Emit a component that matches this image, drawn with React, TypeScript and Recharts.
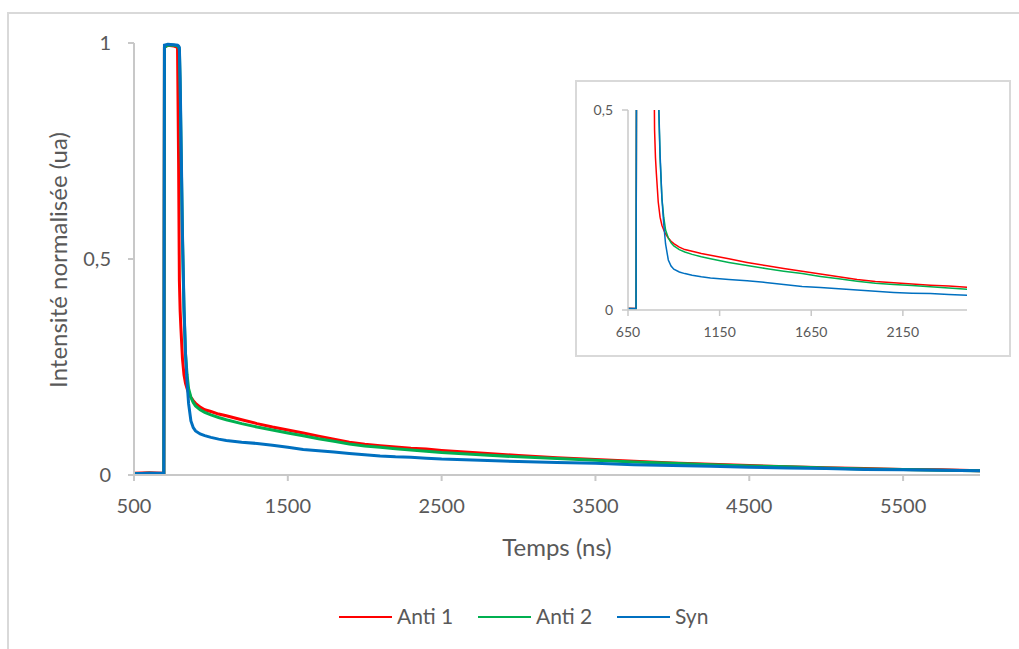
import React from 'react';
import { LineChart, Line, XAxis, YAxis } from 'recharts';

// temps (ns) et intensités normalisées
const timeNs = [
  500, 600, 694, 698, 720, 760, 783, 790, 795, 800, 805, 815, 825, 835, 845, 855, 870, 885, 900, 930,
  960, 1000, 1050, 1100, 1200, 1300, 1400, 1500, 1600, 1700, 1800, 1900, 2000, 2100, 2200, 2300, 2400, 2500,
  2750, 3000, 3250, 3500, 3750, 4000, 4250, 4500, 4750, 5000, 5250, 5500, 5750, 6000,
];
const anti1 = [
  0.004, 0.005, 0.004, 0.99, 0.995, 0.993, 0.99, 0.72, 0.45, 0.38, 0.34, 0.27, 0.232, 0.212, 0.2, 0.19, 0.18, 0.172, 0.166, 0.157,
  0.151, 0.147, 0.141, 0.137, 0.128, 0.119, 0.111, 0.104, 0.097, 0.09, 0.083, 0.076, 0.071, 0.068, 0.065, 0.062, 0.06, 0.057,
  0.051, 0.045, 0.04, 0.036, 0.032, 0.028, 0.025, 0.022, 0.019, 0.017, 0.015, 0.013, 0.012, 0.01,
];
const anti2 = [
  0.003, 0.004, 0.003, 0.99, 0.995, 0.995, 0.993, 0.99, 0.985, 0.9, 0.78, 0.55, 0.38, 0.28, 0.232, 0.2, 0.18, 0.168, 0.16, 0.151,
  0.145, 0.139, 0.133, 0.128, 0.119, 0.111, 0.104, 0.097, 0.091, 0.084, 0.078, 0.072, 0.067, 0.064, 0.061, 0.058, 0.055, 0.052,
  0.047, 0.042, 0.038, 0.034, 0.03, 0.027, 0.024, 0.021, 0.019, 0.016, 0.014, 0.013, 0.011, 0.01,
];
const syn = [
  0.003, 0.004, 0.004, 0.995, 0.997, 0.996, 0.995, 0.993, 0.99, 0.92, 0.8, 0.56, 0.39, 0.28, 0.215, 0.165, 0.125, 0.11, 0.102, 0.095,
  0.091, 0.087, 0.083, 0.08, 0.076, 0.073, 0.069, 0.064, 0.059, 0.056, 0.053, 0.05, 0.047, 0.044, 0.042, 0.041, 0.039, 0.037,
  0.034, 0.031, 0.029, 0.027, 0.024, 0.022, 0.02, 0.018, 0.016, 0.015, 0.013, 0.012, 0.011, 0.01,
];

const mainTicksX = [500, 1500, 2500, 3500, 4500, 5500];
const mainTicksY = [0, 0.5, 1];
const insetTicksX = [650, 1150, 1650, 2150];
const insetTicksY = [0, 0.5];

const SERIES = [
  { key: 'anti1', name: 'Anti 1', color: '#FF0000' },
  { key: 'anti2', name: 'Anti 2', color: '#00B050' },
  { key: 'syn', name: 'Syn', color: '#0070C0' },
];

const TEXT = '#595959';
const AXIS = '#C8C8C8';
const FONT = 'Lato, "Open Sans", sans-serif';

const fmt = (v: number) => String(v).replace('.', ',');

// légende : position de départ de chaque entrée
const legendX = [339, 478, 617];

export default function App() {
  const data = timeNs.map((t, i) => ({ t, anti1: anti1[i], anti2: anti2[i], syn: syn[i] }));

  return (
    <div style={{ position: 'relative', width: 1019, height: 649, background: '#fff', fontFamily: FONT, overflow: 'hidden' }}>
      <style>{'body{margin:0}'}</style>
      {/* cadre du graphique */}
      <div style={{ position: 'absolute', left: 7, top: 12, width: 1030, height: 660, borderLeft: '2px solid #D9D9D9', borderTop: '2px solid #D9D9D9' }} />

      <div style={{ position: 'absolute', left: 0, top: 0 }}>
        <LineChart width={1019} height={649} data={data} margin={{ top: 43, right: 39, bottom: 134, left: 0 }}>
          <XAxis
            type="number"
            dataKey="t"
            domain={[500, 6000]}
            ticks={mainTicksX}
            height={40}
            stroke={AXIS}
            strokeWidth={2}
            tickSize={6}
            tickMargin={18}
            tick={{ fill: TEXT, fontSize: 20, fontFamily: FONT }}
            label={{
              content: () => (
                <text x={557} y={556} textAnchor="middle" fill={TEXT} fontSize={24} fontFamily={FONT}>Temps (ns)</text>
              ),
            }}
          />
          <YAxis
            type="number"
            domain={[0, 1]}
            ticks={mainTicksY}
            width={134}
            stroke={AXIS}
            strokeWidth={2}
            tickSize={6}
            tickMargin={17}
            tickFormatter={fmt}
            tick={{ fill: TEXT, fontSize: 20, fontFamily: FONT }}
            label={{
              content: () => (
                <text x={0} y={0} transform="translate(67,260) rotate(-90)" textAnchor="middle" fill={TEXT} fontSize={24} fontFamily={FONT}>
                  Intensité normalisée (ua)
                </text>
              ),
            }}
          />
          {SERIES.map(s => (
            <Line key={s.key} type="linear" dataKey={s.key} name={s.name} stroke={s.color} strokeWidth={3} dot={false} isAnimationActive={false} />
          ))}
        </LineChart>
      </div>

      {/* encart : zoom sur la décroissance */}
      <div style={{ position: 'absolute', left: 575, top: 80, width: 432, height: 273, border: '2px solid #D9D9D9', background: '#fff' }}>
        <LineChart width={432} height={273} data={data} margin={{ top: 28, right: 42, bottom: 15, left: 0 }}>
          <XAxis
            type="number"
            dataKey="t"
            domain={[650, 2500]}
            allowDataOverflow
            ticks={insetTicksX}
            height={30}
            stroke={AXIS}
            strokeWidth={1.5}
            tickSize={6}
            tickMargin={11}
            tick={{ fill: TEXT, fontSize: 14, fontFamily: FONT }}
          />
          <YAxis
            type="number"
            domain={[0, 0.5]}
            allowDataOverflow
            ticks={insetTicksY}
            width={51}
            stroke={AXIS}
            strokeWidth={1.5}
            tickSize={6}
            tickMargin={9}
            tickFormatter={fmt}
            tick={{ fill: TEXT, fontSize: 14, fontFamily: FONT }}
          />
          {SERIES.map(s => (
            <Line key={s.key} type="linear" dataKey={s.key} name={s.name} stroke={s.color} strokeWidth={1.5} dot={false} isAnimationActive={false} />
          ))}
        </LineChart>
      </div>

      {/* légende */}
      <svg width={1019} height={40} style={{ position: 'absolute', left: 0, top: 598 }}>
        {SERIES.map((s, i) => (
          <g key={s.key}>
            <line x1={legendX[i]} x2={legendX[i] + 53} y1={19} y2={19} stroke={s.color} strokeWidth={2} />
            <text x={legendX[i] + 58} y={26} fill={TEXT} fontSize={21} fontFamily={FONT}>{s.name}</text>
          </g>
        ))}
      </svg>
    </div>
  );
}
